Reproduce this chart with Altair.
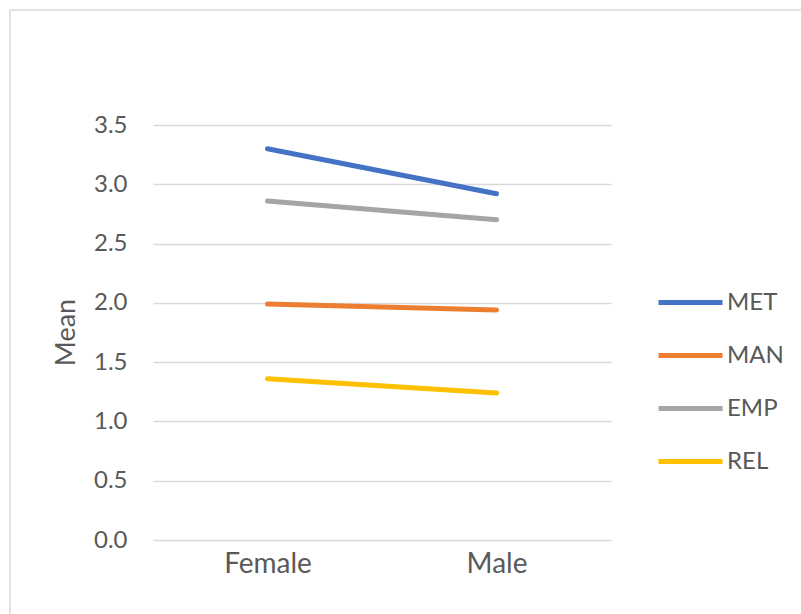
import altair as alt
import pandas as pd

# Mean scores by gender for each scale
genders = ["Female", "Male"]
met = [3.30, 2.92]
man = [1.99, 1.94]
emp = [2.86, 2.70]
rel = [1.36, 1.24]

series_names = ["MET", "MAN", "EMP", "REL"]
series_colors = ["#4472C4", "#ED7D31", "#A5A5A5", "#FFC000"]
y_ticks = [0.0, 0.5, 1.0, 1.5, 2.0, 2.5, 3.0, 3.5]

rows = []
for name, vals in zip(series_names, [met, man, emp, rel]):
    for g, v in zip(genders, vals):
        rows.append({"Gender": g, "Scale": name, "Mean": v})
df = pd.DataFrame(rows)

FONT = "Lato"
TEXT = "#595959"
GRID = "#D9D9D9"

W, H = 458, 415
PAD_L, PAD_T = 153, 125

lines = alt.Chart(df).mark_line(strokeWidth=5, strokeCap="round", strokeJoin="round").encode(
    x=alt.X("Gender:N", sort=genders,
            scale=alt.Scale(type="point", padding=0.5),
            axis=alt.Axis(title=None, domain=False, ticks=False, grid=False,
                          labelAngle=0, labelFont=FONT, labelFontSize=28,
                          labelColor=TEXT, labelPadding=10)),
    y=alt.Y("Mean:Q", scale=alt.Scale(domain=[0, 3.5], nice=False, zero=True),
            axis=alt.Axis(values=y_ticks, format=".1f", domain=False, ticks=False,
                          gridColor=GRID, gridWidth=1.5, labelFont=FONT,
                          labelFontSize=24, labelColor=TEXT, labelPadding=26,
                          title="Mean", titleFont=FONT, titleFontSize=27,
                          titleFontWeight="normal", titleColor=TEXT,
                          titleAngle=-90, titleAlign="center", titleBaseline="middle",
                          titleX=-87, titleY=207)),
    color=alt.Color("Scale:N", sort=series_names,
                    scale=alt.Scale(domain=series_names, range=series_colors),
                    legend=alt.Legend(title=None, orient="none", legendX=503, legendY=143,
                                      symbolType="stroke", symbolSize=4096,
                                      symbolStrokeWidth=5, labelFont=FONT,
                                      labelFontSize=24, labelColor=TEXT,
                                      labelOffset=2, rowPadding=6)),
    detail="Scale:N",
)

# light frame around the whole chart
frame = alt.Chart(pd.DataFrame({"k": [0]})).mark_rect(
    fill=None, stroke=GRID, strokeWidth=1.5, clip=False
).encode(
    x=alt.value(10 - PAD_L), x2=alt.value(820 - PAD_L),
    y=alt.value(10 - PAD_T), y2=alt.value(640 - PAD_T),
)

chart = alt.layer(frame, lines).properties(
    width=W, height=H,
    autosize=alt.AutoSizeParams(type="none"),
    padding={"left": PAD_L, "top": PAD_T, "right": 801 - PAD_L - W, "bottom": 614 - PAD_T - H},
    background="white",
).configure_view(stroke=None)

chart.save("out.html", embed_options={"renderer": "svg", "actions": False})
